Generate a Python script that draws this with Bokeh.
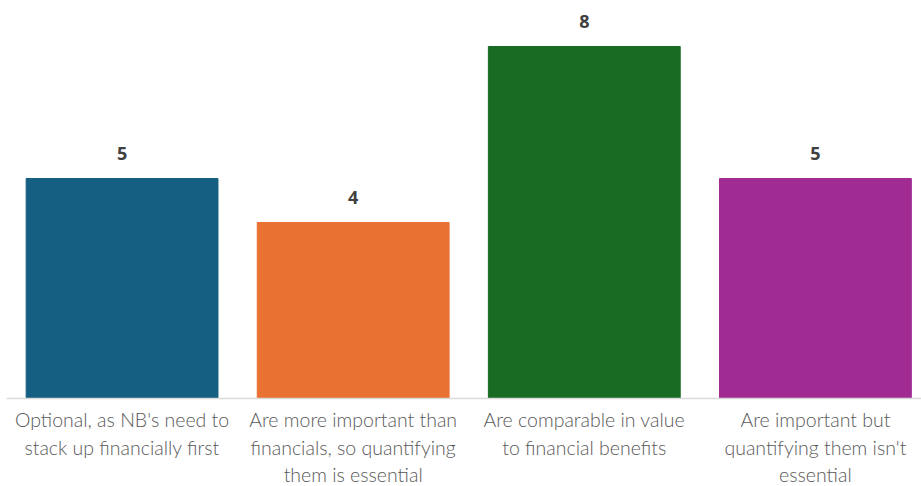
from bokeh.plotting import figure
from bokeh.models import Range1d, ColumnDataSource, Span
from bokeh.core.properties import value
from bokeh.embed import file_html
from bokeh.resources import INLINE

categories = [
    "Optional, as NB's need to\nstack up financially first",
    "Are more important than\nfinancials, so quantifying\nthem is essential",
    "Are comparable in value\nto financial benefits",
    "Are important but\nquantifying them isn't\nessential",
]
values = [5, 4, 8, 5]
colors = ["#156082", "#E97132", "#196B24", "#A02B93"]

xs = [i + 0.5 for i in range(len(categories))]
src = ColumnDataSource(dict(x=xs, top=values, color=colors,
                            label=[str(v) for v in values],
                            cat=categories, zero=[0] * len(values)))

p = figure(width=921, height=486, output_backend="svg", toolbar_location=None,
           x_range=Range1d(0, 3.959), y_range=Range1d(-2.0, 9.045),
           min_border_left=6, min_border_right=0, min_border_top=0,
           min_border_bottom=0, x_axis_location=None, y_axis_location=None)
p.outline_line_color = None
p.xgrid.visible = False
p.ygrid.visible = False
p.background_fill_color = "white"
p.border_fill_color = "white"

p.vbar(x="x", top="top", width=0.83, bottom=0, color="color", source=src)

p.add_layout(Span(location=0, dimension="width", line_color="#D9D9D9",
                  line_width=1.5))

p.text(x="x", y="top", text="label", source=src, text_align="center",
       text_baseline="bottom", y_offset=-18, text_font=value("Open Sans"),
       text_font_style="bold", text_font_size="18px", text_color="#404040")

p.text(x="x", y="zero", text="cat", source=src, text_align="center",
       text_baseline="top", y_offset=10, text_font=value("'Lato Light', Lato"),
       text_font_size="19.5px", text_color="#595959", text_line_height=1.18)

open("out.html", "w").write(file_html(p, INLINE))
